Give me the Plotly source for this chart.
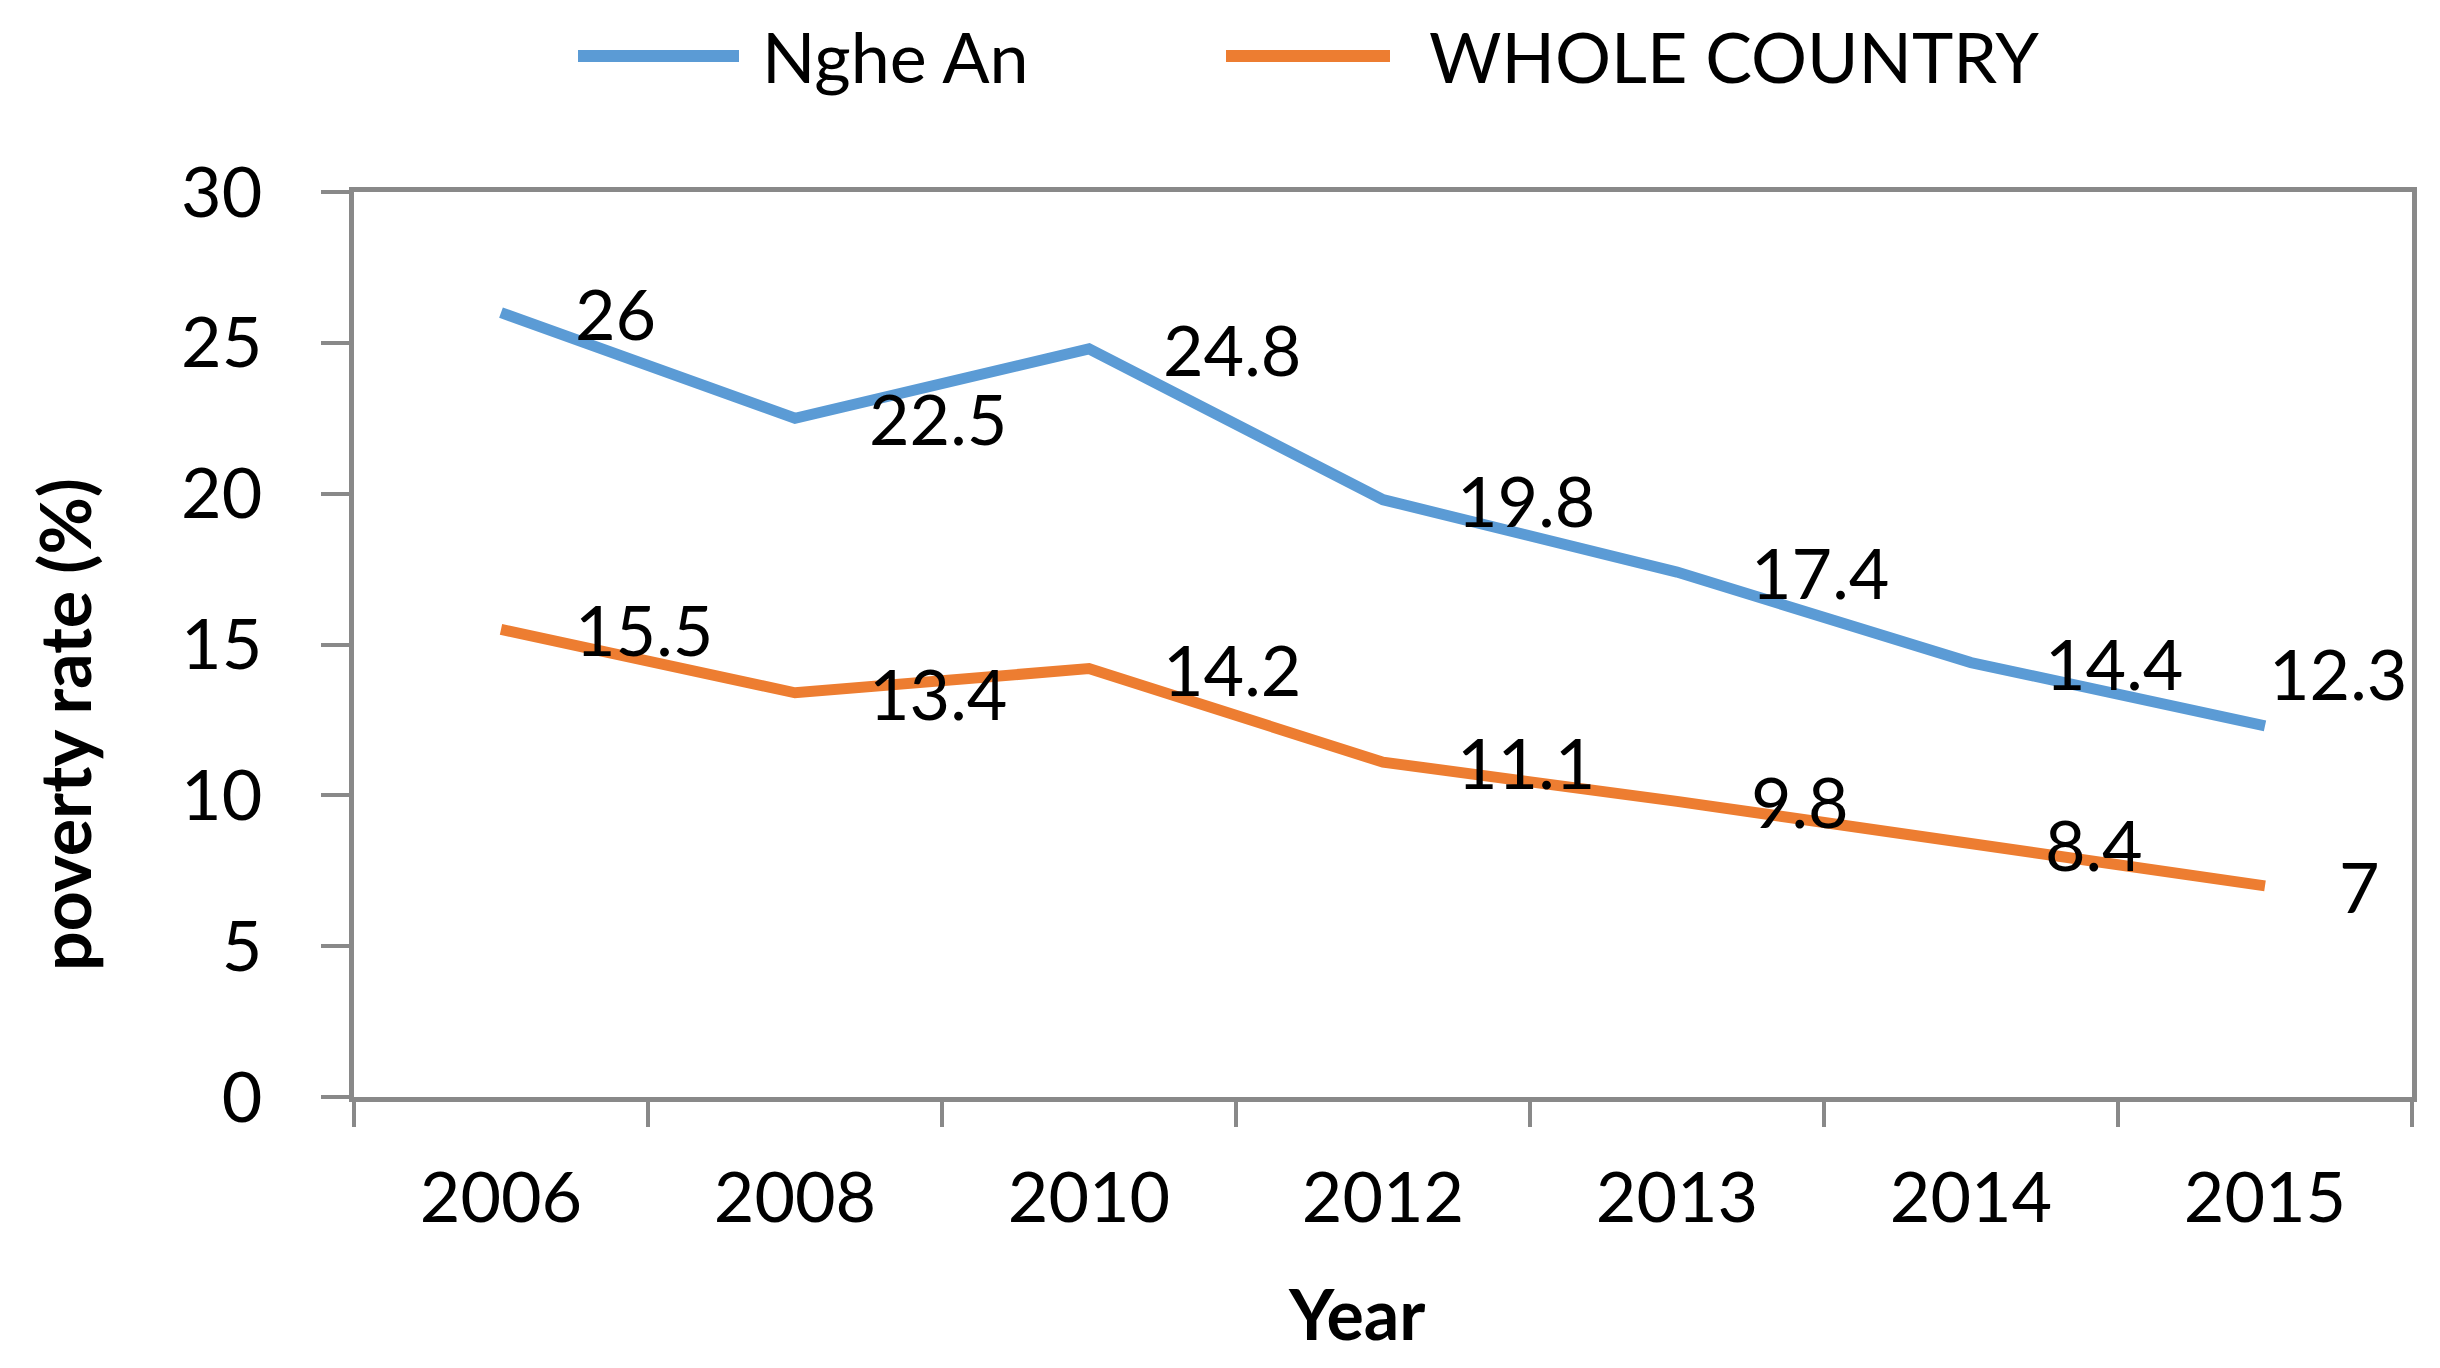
import plotly.graph_objects as go

years = ["2006", "2008", "2010", "2012", "2013", "2014", "2015"]
nghe_an = [26, 22.5, 24.8, 19.8, 17.4, 14.4, 12.3]
whole_country = [15.5, 13.4, 14.2, 11.1, 9.8, 8.4, 7]
series_names = ["Nghe An", "WHOLE COUNTRY"]
y_ticks = [0, 5, 10, 15, 20, 25, 30]

BLUE = "#5B9BD5"
ORANGE = "#ED7D31"
AXIS = "#898989"
FONT = "Lato"
FS = 70

W, H = 2440, 1368
L, R, T, B = 346, 36, 184, 279
pw, ph = W - L - R, H - T - B


def px(xpix):
    return (xpix - L) / pw


def py(ypix):
    return (H - B - ypix) / ph


fig = go.Figure()
for name, vals, col in [(series_names[0], nghe_an, BLUE), (series_names[1], whole_country, ORANGE)]:
    fig.add_trace(go.Scatter(x=years, y=vals, mode="lines", name=name,
                             line=dict(color=col, width=11), showlegend=False))

annotations = []
for sidx, vals in enumerate([nghe_an, whole_country]):
    for i, v in enumerate(vals):
        xs, ys = 72, 0
        if sidx == 0 and i == len(years) - 1:
            xs, ys = 2, 53
        annotations.append(dict(x=i, y=v, xref="x", yref="y", text=f"{v:g}",
                                showarrow=False, xanchor="left", yanchor="middle",
                                xshift=xs, yshift=ys,
                                font=dict(family=FONT, size=FS, color="black")))

# axis titles
annotations.append(dict(x=px(1348), y=py(1305), xref="paper", yref="paper", text="<b>Year</b>",
                        showarrow=False, xanchor="center", yanchor="middle",
                        font=dict(family=FONT, size=FS, color="black")))
annotations.append(dict(x=px(56), y=py(717), xref="paper", yref="paper", text="<b>poverty rate (%)</b>",
                        showarrow=False, xanchor="center", yanchor="middle", textangle=-90,
                        font=dict(family=FONT, size=FS, color="black")))

# custom legend
shapes = []
LEG_Y = 48
legend_items = [(570, 731, 752, series_names[0], BLUE), (1218, 1382, 1419, series_names[1], ORANGE)]
for x0, x1, tx, name, col in legend_items:
    shapes.append(dict(type="line", xref="paper", yref="paper", x0=px(x0), x1=px(x1),
                       y0=py(LEG_Y), y1=py(LEG_Y), line=dict(color=col, width=12)))
    annotations.append(dict(x=px(tx), y=py(LEG_Y), xref="paper", yref="paper", text=name,
                            showarrow=False, xanchor="left", yanchor="middle",
                            font=dict(family=FONT, size=FS, color="black")))

fig.update_layout(
    width=W, height=H,
    margin=dict(l=L, r=R, t=T, b=B),
    paper_bgcolor="white", plot_bgcolor="white",
    annotations=annotations, shapes=shapes,
    font=dict(family=FONT, size=FS, color="black"),
)
fig.update_xaxes(type="category", range=[-0.5, 6.5], tickson="boundaries",
                 ticks="outside", ticklen=25, tickwidth=4, tickcolor=AXIS,
                 showline=True, linecolor=AXIS, linewidth=4.5, mirror=True,
                 showgrid=False, zeroline=False, ticklabelstandoff=36,
                 tickfont=dict(family=FONT, size=FS, color="black"))
fig.update_yaxes(range=[0, 30], tickvals=y_ticks, ticks="outside", ticklen=28, tickwidth=4,
                 tickcolor=AXIS, showline=True, linecolor=AXIS, linewidth=4.5, mirror=True,
                 showgrid=False, zeroline=False, ticklabelstandoff=45,
                 tickfont=dict(family=FONT, size=FS, color="black"))

fig.write_html("out.html")
